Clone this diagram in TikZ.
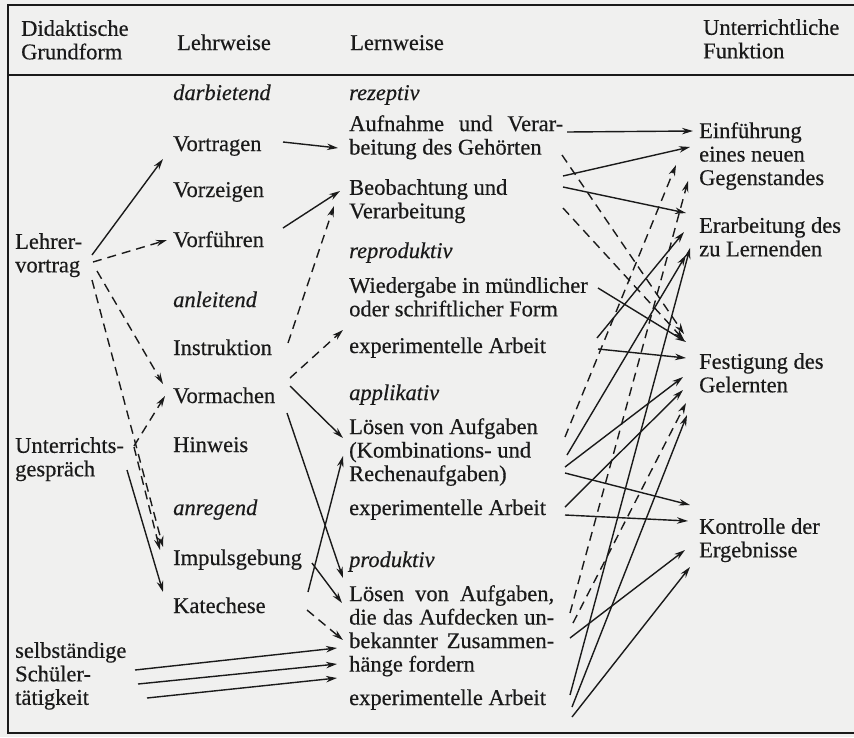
\documentclass[tikz,border=0pt]{standalone}
\usepackage{fontspec}
\setmainfont{Liberation Serif}
\usetikzlibrary{arrows.meta}
\definecolor{paper}{RGB}{240,240,239}
\definecolor{ink}{RGB}{26,26,26}
\newcommand{\justline}[2]{\makebox[#1][s]{#2}}
\tikzset{
  lbl/.style={inner sep=0pt, text=ink, font=\fontsize{22.5}{23.5}\selectfont\addfontfeature{FakeBold=0.4}},
  one/.style={lbl, anchor=base west},
  multi/.style={lbl, anchor=north west, align=left},
  cat/.style={one, font=\fontsize{22.5}{23.5}\selectfont\itshape\addfontfeature{FakeBold=0.4}},
  sol/.style={draw=ink, line width=1.4pt, -{Stealth[length=11pt,width=6.5pt]}},
  dsh/.style={sol, dash pattern=on 9pt off 6pt},
  rule/.style={draw=ink, line width=2.2pt}
}
\begin{document}
\begin{tikzpicture}[x=1pt,y=-1pt]
\fill[paper] (0,0) rectangle (854,737);
\useasboundingbox (0,0) rectangle (854,737);

% frame and header rule
\draw[rule] (854,5) -- (8,5) -- (8,733) -- (854,733);
\draw[rule] (8,75) -- (854,75);

% header
\node[multi] (hGrund) at (21,20) {Didaktische\\Grundform};
\node[one] (hLehr) at (177,50) {Lehrweise};
\node[one] (hLern) at (350,50) {Lernweise};
\node[multi] (hFunk) at (703,19) {Unterrichtliche\\Funktion};

% didaktische Grundformen
\node[multi] (gLV) at (15,233) {Lehrer-\\vortrag};
\node[multi] (gUG) at (15,437) {Unterrichts-\\gespräch};
\node[multi] (gST) at (15,642) {selbständige\\Schüler-\\tätigkeit};

% Lehrweisen
\node[cat] (tDarb) at (173,100) {darbietend};
\node[one] (tVortr) at (173,151) {Vortragen};
\node[one] (tVorz) at (173,197) {Vorzeigen};
\node[one] (tVorf) at (173,247) {Vorführen};
\node[cat] (tAnl) at (173,307) {anleitend};
\node[one] (tInstr) at (173,355) {Instruktion};
\node[one] (tVorm) at (173,403) {Vormachen};
\node[one] (tHinw) at (173,452) {Hinweis};
\node[cat] (tAnr) at (173,515) {anregend};
\node[one] (tImp) at (173,565) {Impulsgebung};
\node[one] (tKat) at (173,613) {Katechese};

% Lernweisen
\node[cat] (tRez) at (349,100) {rezeptiv};
\node[multi] (lAuf) at (349,115) {\justline{214pt}{Aufnahme und Verar-}\\beitung des Gehörten};
\node[multi] (lBeob) at (349,179) {Beobachtung und\\Verarbeitung};
\node[cat] (tRepr) at (349,258) {reproduktiv};
\node[multi] (lWied) at (349,277) {Wiedergabe in mündlicher\\oder schriftlicher Form};
\node[one] (tExpR) at (349,353) {experimentelle Arbeit};
\node[cat] (tAppl) at (349,400) {applikativ};
\node[multi] (lLosK) at (349,418) {Lösen von Aufgaben\\(Kombinations- und\\Rechenaufgaben)};
\node[one] (tExpA) at (349,515) {experimentelle Arbeit};
\node[cat] (tProd) at (349,567) {produktiv};
\node[multi] (lLosP) at (349,585) {\justline{205pt}{Lösen von Aufgaben,}\\\justline{205pt}{die das Aufdecken un-}\\\justline{205pt}{bekannter Zusammen-}\\hänge fordern};
\node[one] (tExpP) at (349,705) {experimentelle Arbeit};

% unterrichtliche Funktionen
\node[multi] (fEinf) at (699,122) {Einführung\\eines neuen\\Gegenstandes};
\node[multi] (fErarb) at (699,217) {Erarbeitung des\\zu Lernenden};
\node[multi] (fFest) at (699,353) {Festigung des\\Gelernten};
\node[multi] (fKontr) at (699,518) {Kontrolle der\\Ergebnisse};

% Grundform -> Lehrweise
\draw[sol] ([shift={(77,22)}]gLV.north west) -- ([shift={(-10,8)}]tVortr.base west);
\draw[dsh] ([shift={(78,29)}]gLV.north west) -- ([shift={(-6,-7)}]tVorf.base west);
\draw[dsh] ([shift={(82,38)}]gLV.north west) -- ([shift={(-10,-19)}]tVorm.base west);
\draw[dsh] ([shift={(77,47)}]gLV.north west) -- ([shift={(-10,-18)}]tImp.base west);
\draw[dsh] ([shift={(119,9)}]gUG.north west) -- ([shift={(-8,-7)}]tVorm.base west);
\draw[dsh] ([shift={(119,10)}]gUG.north west) -- ([shift={(-13,-15)}]tImp.base west);
\draw[sol] ([shift={(112,33)}]gUG.north west) -- ([shift={(-10,-21)}]tKat.base west);
\draw[sol] ([shift={(120,28)}]gST.north west) -- ([shift={(-12,63)}]lLosP.north west);
\draw[sol] ([shift={(123,42)}]gST.north west) -- ([shift={(-12,79)}]lLosP.north west);
\draw[sol] ([shift={(132,56)}]gST.north west) -- ([shift={(-12,93)}]lLosP.north west);

% Lehrweise -> Lernweise
\draw[sol] ([shift={(110,-9)}]tVortr.base west) -- ([shift={(-11,33)}]lAuf.north west);
\draw[sol] ([shift={(110,-19)}]tVorf.base west) -- ([shift={(-9,12)}]lBeob.north west);
\draw[dsh] ([shift={(115,-12)}]tInstr.base west) -- ([shift={(-15,27)}]lBeob.north west);
\draw[dsh] ([shift={(117,-25)}]tVorm.base west) -- ([shift={(-6,-23)}]tExpR.base west);
\draw[sol] ([shift={(117,-17)}]tVorm.base west) -- ([shift={(-6,20)}]lLosK.north west);
\draw[sol] ([shift={(114,10)}]tVorm.base west) -- ([shift={(-6,-7)}]lLosP.north west);
\draw[sol] ([shift={(135,27)}]tImp.base west) -- ([shift={(-6,38)}]lLosK.north west);
\draw[sol] ([shift={(139,-2)}]tImp.base west) -- ([shift={(-7,18)}]lLosP.north west);
\draw[dsh] ([shift={(134,-3)}]tKat.base west) -- ([shift={(-6,55)}]lLosP.north west);

% Lernweise -> unterrichtliche Funktion
\draw[sol] ([shift={(218,17)}]lAuf.north west) -- ([shift={(-6,9)}]fEinf.north west);
\draw[sol] ([shift={(214,-3)}]lBeob.north west) -- ([shift={(-9,25)}]fEinf.north west);
\draw[sol] ([shift={(214,8)}]lBeob.north west) -- ([shift={(-13,-4)}]fErarb.north west);
\draw[dsh] ([shift={(213,40)}]lAuf.north west) -- ([shift={(-15,-19)}]fFest.north west);
\draw[dsh] ([shift={(214,29)}]lBeob.north west) -- ([shift={(-15,-13)}]fFest.north west);
\draw[sol] ([shift={(249,11)}]lWied.north west) -- ([shift={(-13,-11)}]fFest.north west);
\draw[sol] ([shift={(249,-4)}]tExpR.base west) -- ([shift={(-13,5)}]fFest.north west);
\draw[sol] ([shift={(248,-15)}]tExpR.base west) -- ([shift={(-15,15)}]fErarb.north west);
\draw[dsh] ([shift={(216,19)}]lLosK.north west) -- ([shift={(-23,43)}]fEinf.north west);
\draw[sol] ([shift={(218,37)}]lLosK.north west) -- ([shift={(-13,38)}]fErarb.north west);
\draw[sol] ([shift={(216,49)}]lLosK.north west) -- ([shift={(-16,24)}]fFest.north west);
\draw[sol] ([shift={(216,55)}]lLosK.north west) -- ([shift={(-9,-13)}]fKontr.north west);
\draw[sol] ([shift={(216,-8)}]tExpA.base west) -- ([shift={(-16,37)}]fFest.north west);
\draw[sol] ([shift={(216,0)}]tExpA.base west) -- ([shift={(-11,3)}]fKontr.north west);
\draw[dsh] ([shift={(221,28)}]lLosP.north west) -- ([shift={(-11,59)}]fEinf.north west);
\draw[dsh] ([shift={(224,38)}]lLosP.north west) -- ([shift={(-13,50)}]fFest.north west);
\draw[sol] ([shift={(221,53)}]lLosP.north west) -- ([shift={(-14,32)}]fKontr.north west);
\draw[sol] ([shift={(223,12)}]tExpP.base west) -- ([shift={(-9,49)}]fKontr.north west);
\draw[sol] ([shift={(221,-10)}]tExpP.base west) -- ([shift={(-9,31)}]fErarb.north west);
\draw[sol] ([shift={(223,2)}]tExpP.base west) -- ([shift={(-12,62)}]fFest.north west);
\end{tikzpicture}
\end{document}
